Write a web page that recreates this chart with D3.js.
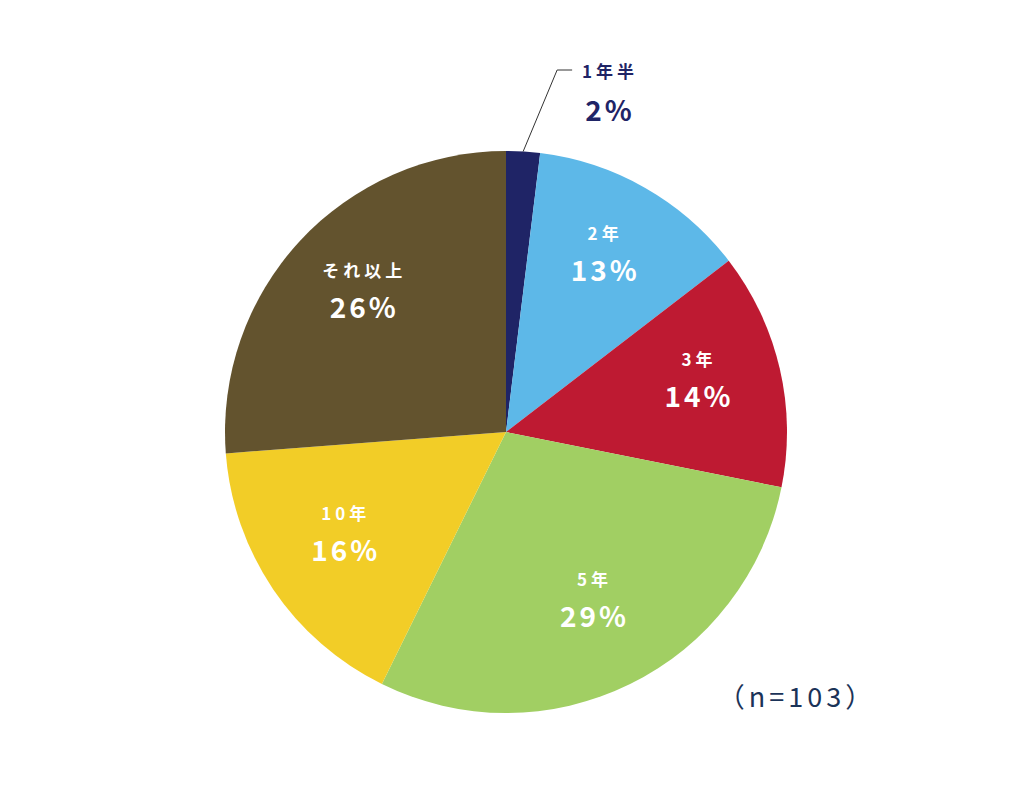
<!DOCTYPE html>
<html>
<head>
<meta charset="utf-8">
<script src="https://cdn.jsdelivr.net/npm/d3@7"></script>
<style>
  body { margin: 0; background: #fff; }
  text { font-family: "Noto Sans CJK JP", "Noto Sans", sans-serif; }
</style>
</head>
<body>
<div id="chart"></div>
<script>
// 回答数 (n=103)
var categories = ["1年半", "2年", "3年", "5年", "10年", "それ以上"];
var counts = [2, 13, 14, 30, 17, 27];
var pctLabels = ["2%", "13%", "14%", "29%", "16%", "26%"];
var colors = ["#1f2466", "#5db8e8", "#be1a32", "#a1cf63", "#f2cd27", "#63532e"];

var width = 1012;
var height = 796;
var cx = 506, cy = 432;
var radius = 281;

var svg = d3.select('#chart')
    .append('svg')
        .attr('width', width)
        .attr('height', height);

var g = svg.append('g')
    .attr('transform', 'translate(' + cx + ',' + cy + ')');

var pie = d3.pie()
    .value(function(d) { return d; })
    .sort(null);

var arc = d3.arc()
    .innerRadius(0)
    .outerRadius(radius);

var labelArc = d3.arc()
    .innerRadius(196)
    .outerRadius(196);

var slices = pie(counts);

g.selectAll('path')
    .data(slices)
    .enter()
    .append('path')
        .attr('d', arc)
        .attr('fill', function(d, i) { return colors[i]; });

// labels inside slices (skip the tiny first one)
var inside = g.selectAll('.lbl')
    .data(slices.filter(function(d) { return d.index > 0; }))
    .enter()
    .append('g')
        .attr('class', 'lbl')
        .attr('transform', function(d) {
            var c = labelArc.centroid(d);
            return 'translate(' + c[0] + ',' + c[1] + ')';
        });

inside.append('text')
    .attr('text-anchor', 'middle')
    .attr('x', 2)
    .attr('y', -22)
    .attr('fill', '#fff')
    .attr('font-size', 17)
    .attr('font-weight', 'bold')
    .attr('letter-spacing', 4)
    .text(function(d) { return categories[d.index]; });

inside.append('text')
    .attr('text-anchor', 'middle')
    .attr('x', 2)
    .attr('y', 19)
    .attr('fill', '#fff')
    .attr('font-size', 28)
    .attr('font-weight', 'bold')
    .attr('letter-spacing', 3)
    .text(function(d) { return pctLabels[d.index]; });

// 1年半 label outside with leader line
var first = slices[0];
var mid = (first.startAngle + first.endAngle) / 2;
var edge = [Math.sin(mid) * radius, -Math.cos(mid) * radius];
var elbow = [edge[0] + 34, -362];

g.append('polyline')
    .attr('points', [edge, elbow, [elbow[0] + 15, elbow[1]]].map(function(p) { return p.join(','); }).join(' '))
    .attr('fill', 'none')
    .attr('stroke', '#333')
    .attr('stroke-width', 1);

g.append('text')
    .attr('x', 104)
    .attr('y', -354)
    .attr('text-anchor', 'middle')
    .attr('fill', colors[0])
    .attr('font-size', 17)
    .attr('font-weight', 'bold')
    .attr('letter-spacing', 4)
    .text(categories[0]);

g.append('text')
    .attr('x', 104)
    .attr('y', -311)
    .attr('text-anchor', 'middle')
    .attr('fill', colors[0])
    .attr('font-size', 28)
    .attr('font-weight', 'bold')
    .attr('letter-spacing', 3)
    .text(pctLabels[0]);

svg.append('text')
    .attr('x', 797)
    .attr('y', 707)
    .attr('text-anchor', 'middle')
    .attr('fill', '#1b3358')
    .attr('font-size', 27)
    .attr('letter-spacing', 4)
    .text('（n=' + d3.sum(counts) + '）');
</script>
</body>
</html>
